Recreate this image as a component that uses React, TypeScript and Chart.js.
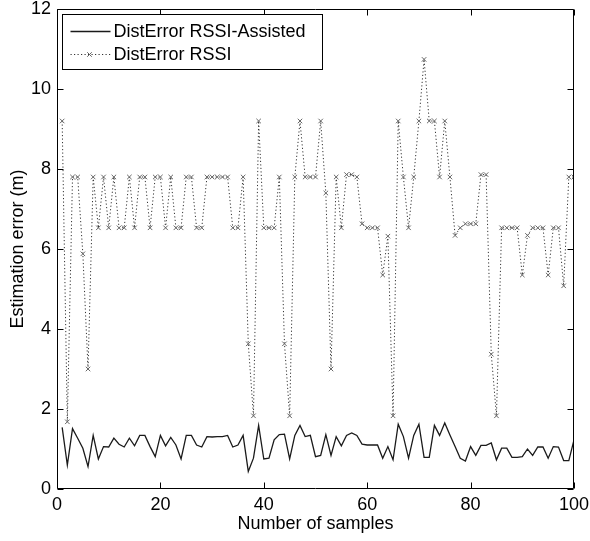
import React, { useEffect, useRef } from "react";
import { Chart, registerables } from "chart.js";

Chart.register(...registerables);

const samples = [
  1, 2, 3, 4, 5, 6, 7, 8, 9, 10, 11, 12, 13, 14, 15, 16, 17, 18, 19, 20,
  21, 22, 23, 24, 25, 26, 27, 28, 29, 30, 31, 32, 33, 34, 35, 36, 37, 38, 39, 40,
  41, 42, 43, 44, 45, 46, 47, 48, 49, 50, 51, 52, 53, 54, 55, 56, 57, 58, 59, 60,
  61, 62, 63, 64, 65, 66, 67, 68, 69, 70, 71, 72, 73, 74, 75, 76, 77, 78, 79, 80,
  81, 82, 83, 84, 85, 86, 87, 88, 89, 90, 91, 92, 93, 94, 95, 96, 97, 98, 99, 100,
];

const assistedError = [
  1.54, 0.6, 1.51, 1.27, 1.02, 0.56, 1.34, 0.75, 1.06, 1.05,
  1.27, 1.12, 1.05, 1.27, 1.08, 1.34, 1.34, 1.06, 0.81, 1.34,
  1.08, 1.29, 1.1, 0.75, 1.34, 1.34, 1.1, 1.05, 1.31, 1.3,
  1.31, 1.31, 1.34, 1.05, 1.1, 1.34, 0.44, 0.77, 1.59, 0.75,
  0.77, 1.23, 1.36, 1.37, 0.75, 1.34, 1.59, 1.31, 1.34, 0.81,
  0.84, 1.36, 0.84, 1.31, 1.08, 1.34, 1.4, 1.34, 1.12, 1.1,
  1.1, 1.1, 0.77, 1.06, 0.73, 1.62, 1.31, 0.77, 1.34, 1.62,
  0.79, 0.79, 1.59, 1.34, 1.65, 1.35, 1.06, 0.77, 0.7, 1.06,
  0.84, 1.09, 1.09, 1.15, 0.73, 1.02, 1.02, 0.79, 0.79, 0.81,
  1.0, 0.84, 1.05, 1.05, 0.77, 1.06, 1.05, 0.71, 0.71, 1.23,
];

const rssiError = [
  9.2, 1.68, 7.8, 7.8, 5.88, 3.0, 7.8, 6.53, 7.8, 6.53,
  7.8, 6.53, 6.53, 7.8, 6.53, 7.8, 7.8, 6.53, 7.8, 7.8,
  6.53, 7.8, 6.53, 6.53, 7.8, 7.8, 6.53, 6.53, 7.8, 7.8,
  7.8, 7.8, 7.8, 6.53, 6.53, 7.8, 3.63, 1.83, 9.2, 6.53,
  6.53, 6.53, 7.8, 3.63, 1.83, 7.8, 9.2, 7.8, 7.8, 7.8,
  9.2, 7.4, 3.0, 7.8, 6.53, 7.86, 7.86, 7.8, 6.63, 6.53,
  6.53, 6.53, 5.35, 6.32, 1.83, 9.2, 7.8, 6.53, 7.8, 9.2,
  10.74, 9.2, 9.2, 7.8, 9.2, 7.8, 6.34, 6.53, 6.63, 6.63,
  6.63, 7.86, 7.86, 3.37, 1.83, 6.53, 6.53, 6.53, 6.53, 5.35,
  6.34, 6.53, 6.53, 6.53, 5.35, 6.53, 6.53, 5.08, 7.8, 7.8,
];

const seriesLabels = ["DistError RSSI-Assisted", "DistError RSSI"];
const xTitle = "Number of samples";
const yTitle = "Estimation error (m)";

const FONT_FAMILY = "'Liberation Sans', Arial, Helvetica, sans-serif";
const FONT_SIZE = 18;

const framePlugin = {
  id: "matlabFrame",
  afterDraw(chart: any) {
    const { ctx, chartArea } = chart;
    const { left, right, top, bottom } = chartArea;
    const xs = chart.scales.x;
    const ys = chart.scales.y;
    const tl = 6;
    ctx.save();
    ctx.strokeStyle = "#000";
    ctx.lineWidth = 1;
    ctx.beginPath();
    const L = Math.round(left) + 0.5;
    const R = Math.round(right) - 0.5;
    const T = Math.round(top) + 0.5;
    const B = Math.round(bottom) - 0.5;
    ctx.rect(L, T, R - L, B - T);
    xs.ticks.forEach((t: any) => {
      const px = Math.round(xs.getPixelForValue(t.value)) + 0.5;
      ctx.moveTo(px, B);
      ctx.lineTo(px, B - tl);
      ctx.moveTo(px, T);
      ctx.lineTo(px, T + tl);
    });
    ys.ticks.forEach((t: any) => {
      const py = Math.round(ys.getPixelForValue(t.value)) + 0.5;
      ctx.moveTo(L, py);
      ctx.lineTo(L + tl, py);
      ctx.moveTo(R, py);
      ctx.lineTo(R - tl, py);
    });
    ctx.stroke();

    // legend box
    const x0 = L + 5;
    const y0 = T + 5;
    const w = 260;
    const h = 55;
    ctx.fillStyle = "#fff";
    ctx.fillRect(x0, y0, w, h);
    ctx.strokeRect(x0, y0, w, h);
    const rows = [y0 + 17, y0 + 40];
    ctx.font = `${FONT_SIZE}px ${FONT_FAMILY}`;
    ctx.textBaseline = "middle";
    ctx.textAlign = "left";
    chart.data.datasets.forEach((ds: any, i: number) => {
      const ry = rows[i];
      ctx.save();
      ctx.strokeStyle = ds.borderColor;
      ctx.lineWidth = ds.borderWidth;
      ctx.setLineDash(ds.borderDash || []);
      ctx.beginPath();
      ctx.moveTo(x0 + 8, ry);
      ctx.lineTo(x0 + 48, ry);
      ctx.stroke();
      ctx.restore();
      if (ds.pointRadius > 0) {
        const r = ds.pointRadius * 0.7071;
        const cx = x0 + 27;
        ctx.save();
        ctx.strokeStyle = ds.pointBorderColor;
        ctx.lineWidth = ds.pointBorderWidth;
        ctx.beginPath();
        ctx.moveTo(cx - r, ry - r);
        ctx.lineTo(cx + r, ry + r);
        ctx.moveTo(cx + r, ry - r);
        ctx.lineTo(cx - r, ry + r);
        ctx.stroke();
        ctx.restore();
      }
      ctx.fillStyle = "#000";
      ctx.fillText(ds.label, x0 + 51, ry + 1);
    });
    ctx.restore();
  },
};

const zeroPadding = (s: any) => {
  s.paddingTop = 0;
  s.paddingBottom = 0;
  s.paddingLeft = 0;
  s.paddingRight = 0;
};

export default function App() {
  const canvasRef = useRef<HTMLCanvasElement | null>(null);

  useEffect(() => {
    const canvas = canvasRef.current;
    if (!canvas) return;
    const font = { family: FONT_FAMILY, size: FONT_SIZE, lineHeight: 1.2 };
    const chart = new Chart(canvas, {
      type: "line",
      data: {
        datasets: [
          {
            label: seriesLabels[0],
            data: samples.map((s, i) => ({ x: s, y: assistedError[i] })),
            borderColor: "#1a1a1a",
            borderWidth: 1.3,
            pointRadius: 0,
            tension: 0,
            fill: false,
          },
          {
            label: seriesLabels[1],
            data: samples.map((s, i) => ({ x: s, y: rssiError[i] })),
            borderColor: "#333",
            borderWidth: 1,
            borderDash: [1.2, 2.3],
            pointStyle: "crossRot",
            pointRadius: 3.2,
            pointBorderColor: "#666",
            pointBorderWidth: 1,
            pointBackgroundColor: "#666",
            tension: 0,
            fill: false,
          },
        ],
      },
      options: {
        animation: false,
        responsive: false,
        maintainAspectRatio: false,
        layout: { padding: { top: 9, right: 16, left: 0, bottom: 0 } },
        plugins: {
          legend: { display: false },
          tooltip: { enabled: false },
        },
        scales: {
          x: {
            type: "linear",
            min: 0,
            max: 100,
            ticks: { stepSize: 20, color: "#000", font, padding: 5, maxRotation: 0 },
            grid: { display: false, drawTicks: false },
            border: { display: false },
            title: {
              display: true,
              text: xTitle,
              color: "#000",
              font,
              padding: { top: 0, bottom: 6 },
            },
            afterFit: (s: any) => {
              s.height = 52;
              zeroPadding(s);
            },
          },
          y: {
            type: "linear",
            min: 0,
            max: 12,
            ticks: { stepSize: 2, color: "#000", font, padding: 6 },
            grid: { display: false, drawTicks: false },
            border: { display: false },
            title: {
              display: true,
              text: yTitle,
              color: "#000",
              font,
              padding: { top: 7, bottom: 0 },
            },
            afterFit: (s: any) => {
              s.width = 57;
              zeroPadding(s);
            },
          },
        },
      },
      plugins: [framePlugin],
    });
    return () => chart.destroy();
  }, []);

  return (
    <div style={{ position: "absolute", left: 0, top: 0, width: 590, height: 541, background: "#fff" }}>
      <canvas ref={canvasRef} width={590} height={541} style={{ width: 590, height: 541, display: "block" }} />
    </div>
  );
}
